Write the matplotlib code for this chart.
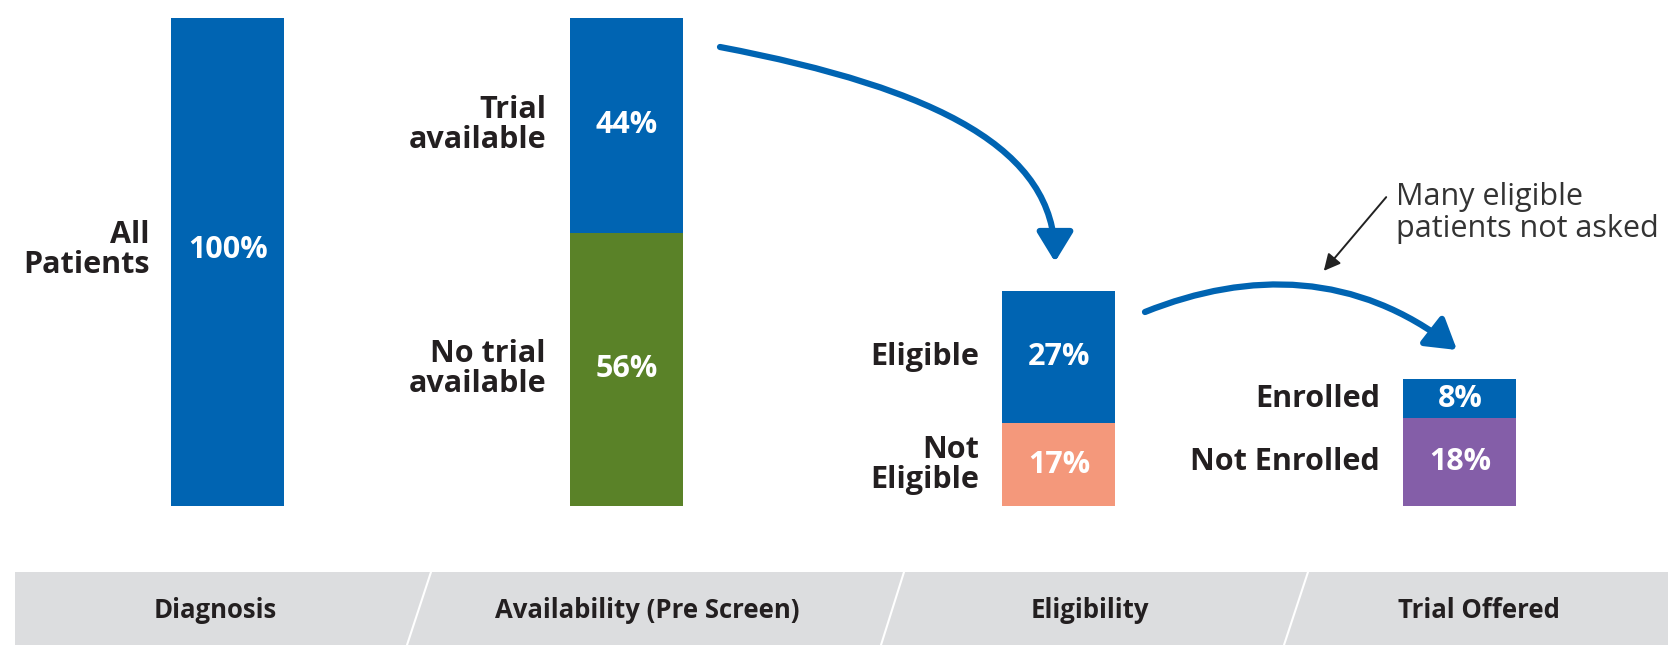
import matplotlib
matplotlib.use("Agg")
import matplotlib.pyplot as plt
from matplotlib.patches import FancyArrowPatch, Polygon
from matplotlib.path import Path

# ---- data ----
stages = ["Diagnosis", "Availability (Pre Screen)", "Eligibility", "Trial Offered"]
seg_labels = [["All\nPatients"],
              ["No trial\navailable", "Trial\navailable"],
              ["Not\nEligible", "Eligible"],
              ["Not Enrolled", "Enrolled"]]
seg_values = [[100], [56, 44], [17, 27], [18, 8]]
seg_colors = [["#0064B2"], ["#5A8228", "#0064B2"], ["#F4987B", "#0064B2"], ["#845EA8", "#0064B2"]]
note_text = "Many eligible\npatients not asked"

W, H = 1668, 645
fig = plt.figure(figsize=(W / 100, H / 100), dpi=100)
plt.rcParams['font.family'] = ['Open Sans', 'DejaVu Sans']

# bar axes: baseline at pixel 506 from top, 100% at pixel 18
base_px, top_px = 506, 18
ax = fig.add_axes([0, (H - base_px) / H, 1, (base_px - top_px) / H])
ax.set_xlim(0, W)
ax.set_ylim(0, 100)
ax.axis("off")

bar_x = [228, 627, 1059, 1460]
bar_w = 113
label_right = [150, 546, 979, 1380]
txt_col = "#231F20"

for i, (vals, labs, cols) in enumerate(zip(seg_values, seg_labels, seg_colors)):
    bottom = 0
    for v, lab, c in zip(vals, labs, cols):
        ax.bar(bar_x[i], v, width=bar_w, bottom=bottom, color=c, edgecolor="none")
        yc = bottom + v / 2
        if i == 0:
            yc = 52.5
        ax.text(bar_x[i], yc, f"{v}%", ha="center", va="center",
                color="white", fontsize=22, fontweight="bold")
        ax.text(label_right[i], yc, lab, ha="right", va="center", color=txt_col,
                fontsize=22, fontweight="bold", linespacing=1.0)
        bottom += v

# overlay axes in pixel coordinates
ov = fig.add_axes([0, 0, 1, 1])
ov.set_xlim(0, W)
ov.set_ylim(H, 0)
ov.axis("off")

blue = "#0064B2"
head = "-|>,head_length=9,head_width=5.5"
C4 = [Path.MOVETO, Path.CURVE4, Path.CURVE4, Path.CURVE4]
p1 = Path([(720, 47), (940, 89), (1055, 150), (1055, 262)], C4)
ov.add_patch(FancyArrowPatch(path=p1, arrowstyle=head, color=blue, lw=4.5,
                             mutation_scale=2))
p2 = Path([(1145, 312), (1250, 270), (1357, 272), (1457, 350)], C4)
ov.add_patch(FancyArrowPatch(path=p2, arrowstyle=head, color=blue, lw=4.5,
                             mutation_scale=2))
a3 = FancyArrowPatch((1388, 195), (1322, 273), arrowstyle="-|>,head_length=5,head_width=2.5",
                     color="#222222", lw=1.4, mutation_scale=2)
ov.add_patch(a3)
ov.text(1396, 213, note_text, ha="left", va="center", fontsize=22, color="#333333",
        linespacing=1.05)

# bottom band
band_top, band_bot = 572, 645
ov.add_patch(Polygon([(15, band_top), (W, band_top), (W, band_bot), (15, band_bot)],
                     closed=True, facecolor="#DCDDDF", edgecolor="none"))
dividers = [(431, 407), (904, 881), (1308, 1284)]
for xt, xb in dividers:
    ov.plot([xt, xb], [band_top, band_bot], color="white", lw=1.5)
stage_x = [215, 647, 1090, 1479]
for sx, s in zip(stage_x, stages):
    ov.text(sx, 610, s, ha="center", va="center", fontsize=18.5, fontweight="bold",
            color=txt_col)

fig.savefig("out.png", dpi=100)
